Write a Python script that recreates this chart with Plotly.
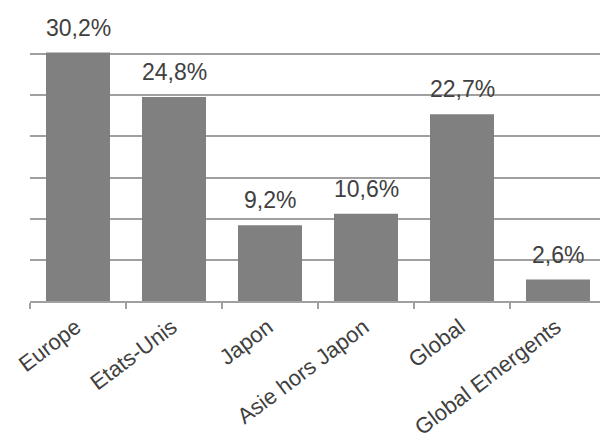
import plotly.graph_objects as go

categories = ["Europe", "Etats-Unis", "Japon", "Asie hors Japon", "Global", "Global Emergents"]
values = [30.2, 24.8, 9.2, 10.6, 22.7, 2.6]
labels = ["30,2%", "24,8%", "9,2%", "10,6%", "22,7%", "2,6%"]

FONT = "Liberation Sans, Arial, sans-serif"
TEXT = "#404040"

fig = go.Figure()
fig.add_trace(go.Bar(x=categories, y=values, marker=dict(color="#808080", line=dict(width=0)),
                     hoverinfo="skip"))

for c, v, t in zip(categories, values, labels):
    fig.add_annotation(x=c, y=v, text=t, showarrow=False, yanchor="bottom", yshift=10,
                       font=dict(family=FONT, size=23, color=TEXT))

fig.update_layout(
    width=600, height=444,
    margin=dict(l=30, r=0, t=12.6, b=143, autoexpand=False),
    paper_bgcolor="white", plot_bgcolor="white",
    bargap=1/3, showlegend=False,
)
fig.update_xaxes(range=[-0.5, 5.4375], showgrid=False, showline=True, linecolor="#a0a0a0", linewidth=1.5,
                 ticks="outside", tickson="boundaries", ticklen=6, tickcolor="#a0a0a0", tickwidth=1.5,
                 tickangle=-37, ticklabelstandoff=3, ticklabelshift=-2, automargin=False,
                 tickfont=dict(family=FONT, size=22, color=TEXT))
fig.update_yaxes(range=[0, 35], dtick=5, showgrid=True, gridcolor="#a0a0a0", gridwidth=1.5,
                 showticklabels=False, zeroline=False, showline=False, automargin=False)

fig.write_html("out.html")
